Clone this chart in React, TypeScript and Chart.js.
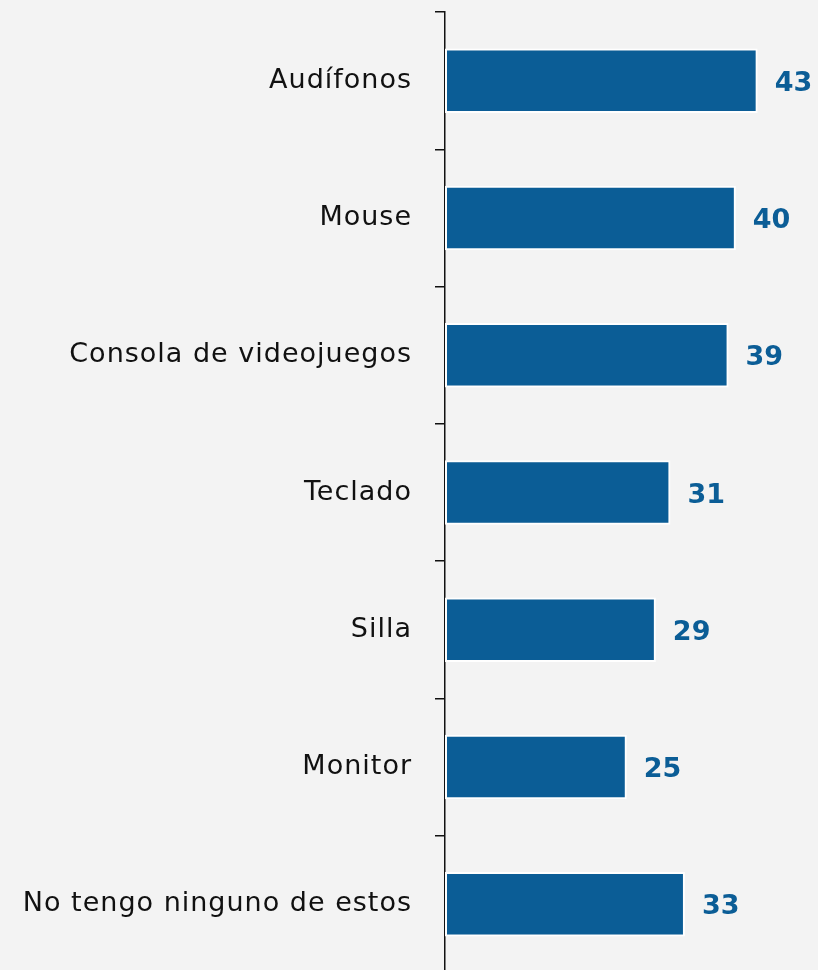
import React, { useEffect, useRef } from "react";
import { Chart, registerables } from "chart.js";

Chart.register(...registerables);

const categories = [
  "Audífonos",
  "Mouse",
  "Consola de videojuegos",
  "Teclado",
  "Silla",
  "Monitor",
  "No tengo ninguno de estos",
];
const values = [43, 40, 39, 31, 29, 25, 33];

const BAR_COLOR = "#0b5d96";
const LABEL_FONT = "'DejaVu Sans', sans-serif";

const letterSpacing = {
  id: "letterSpacing",
  beforeDraw(chart: any) {
    (chart.ctx as any).letterSpacing = "1px";
  },
};

const valueLabels = {
  id: "valueLabels",
  afterDatasetsDraw(chart: any) {
    const ctx = chart.ctx;
    const meta = chart.getDatasetMeta(0);
    ctx.save();
    (ctx as any).letterSpacing = "0px";
    ctx.fillStyle = BAR_COLOR;
    ctx.font = `bold 27px ${LABEL_FONT}`;
    ctx.textAlign = "left";
    ctx.textBaseline = "middle";
    meta.data.forEach((bar: any, i: number) => {
      ctx.fillText(String(values[i]), bar.x + 17, bar.y + 3);
    });
    ctx.restore();
  },
};

export default function App() {
  const ref = useRef<HTMLCanvasElement | null>(null);
  useEffect(() => {
    if (!ref.current) return;
    const chart = new Chart(ref.current, {
      type: "bar",
      data: {
        labels: categories,
        datasets: [
          {
            data: values,
            backgroundColor: BAR_COLOR,
            borderColor: "#ffffff",
            borderWidth: 2,
            borderSkipped: false,
            categoryPercentage: 0.94,
            barPercentage: 0.5,
          },
        ],
      },
      options: {
        indexAxis: "y",
        responsive: false,
        animation: false,
        layout: { padding: { top: 12, right: 0, bottom: 0, left: 0 } },
        plugins: {
          legend: { display: false },
          tooltip: { enabled: false },
        },
        scales: {
          x: {
            display: false,
            min: 0,
            max: 51.3,
          },
          y: {
            afterFit(scale: any) {
              scale.width = 445;
              scale.paddingTop = 0;
              scale.paddingBottom = 0;
            },
            border: { display: true, color: "#111111", width: 1.5 },
            grid: {
              display: true,
              offset: true,
              drawOnChartArea: false,
              drawTicks: true,
              tickLength: 10,
              color: "#111111",
              lineWidth: 1.5,
            },
            ticks: {
              padding: 23,
              color: "#111111",
              font: { family: LABEL_FONT, size: 27 },
            },
          },
        },
      },
      plugins: [letterSpacing, valueLabels],
    });
    return () => chart.destroy();
  }, []);

  return (
    <div
      style={{
        position: "fixed",
        left: 0,
        top: 0,
        width: 818,
        height: 970,
        overflow: "hidden",
        background: "#f3f3f3",
      }}
    >
      <canvas ref={ref} width={818} height={973} style={{ display: "block" }} />
    </div>
  );
}
